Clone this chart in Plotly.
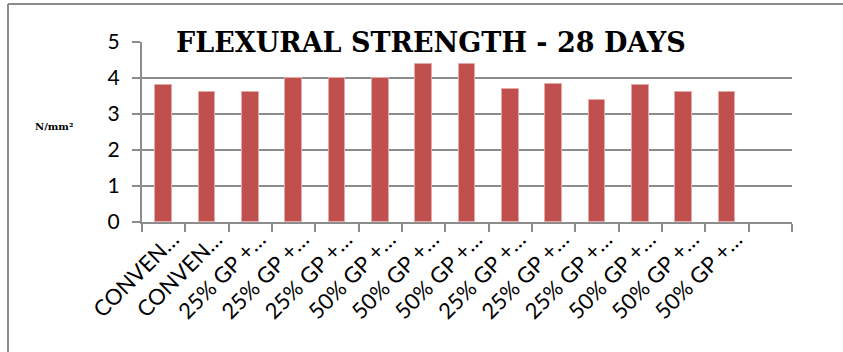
import plotly.graph_objects as go

# Flexural strength after 28 days, one bar per mix
labels = ["CONVEN…", "CONVEN…", "25% GP +…", "25% GP +…", "25% GP +…",
          "50% GP +…", "50% GP +…", "50% GP +…", "25% GP +…", "25% GP +…",
          "25% GP +…", "50% GP +…", "50% GP +…", "50% GP +…"]
strength = [3.8, 3.6, 3.6, 4.0, 4.0, 4.0, 4.4, 4.4, 3.7, 3.83, 3.4, 3.8, 3.6, 3.6]
y_ticks = [0, 1, 2, 3, 4, 5]

positions = list(range(len(labels)))
slots = len(labels) + 1  # one spare slot on the right

W, H = 843, 352
L, R, T, B = 142, 51, 42, 130
SERIF = "DejaVu Serif"

fig = go.Figure()
fig.add_trace(go.Bar(
    x=positions, y=strength, width=0.39,
    marker=dict(color="#C0504D", line=dict(color="#E6A9A7", width=1)),
    hoverinfo="y",
))

grid = "#8C8C8C"
fig.update_layout(
    width=W, height=H,
    margin=dict(l=L, r=R, t=T, b=B, pad=0),
    paper_bgcolor="white", plot_bgcolor="white",
    showlegend=False,
    bargap=0,
    xaxis=dict(
        range=[-0.5, slots - 0.5],
        tickmode="array", tickvals=positions, ticktext=labels,
        tickangle=-45, ticks="", showgrid=False,
        tickfont=dict(family="Lato", size=22, color="black"),
        showline=True, linecolor=grid, linewidth=2,
        zeroline=False,
        minor=dict(tick0=-0.5, dtick=1, ticks="outside", ticklen=8,
                   tickcolor=grid, tickwidth=2, showgrid=False),
        ticklabelstandoff=-6,
        ticklabelshift=9,
    ),
    yaxis=dict(
        range=[0, 5], tickvals=y_ticks,
        ticks="outside", ticklen=8, tickcolor=grid, tickwidth=2,
        showgrid=True, gridcolor=grid, gridwidth=2,
        showline=True, linecolor=grid, linewidth=2,
        zeroline=False,
        tickfont=dict(family="Lato", size=21, color="black"),
        ticklabelstandoff=8,
    ),
    font=dict(family="Lato", color="black"),
)

# chart frame (left and top edges)
fig.add_shape(type="line", xref="paper", yref="paper",
              x0=(8 - L) / (W - L - R), x1=(8 - L) / (W - L - R),
              y0=(H - B - 352) / (H - T - B), y1=(H - B - 4) / (H - T - B),
              line=dict(color=grid, width=2), layer="above")
fig.add_shape(type="line", xref="paper", yref="paper",
              x0=(8 - L) / (W - L - R), x1=(W - L) / (W - L - R),
              y0=(H - B - 4) / (H - T - B), y1=(H - B - 4) / (H - T - B),
              line=dict(color=grid, width=2), layer="above")

# title, drawn over the top gridline
fig.add_annotation(
    text="<b>FLEXURAL STRENGTH - 28 DAYS</b>",
    xref="paper", yref="paper",
    x=(431 - L) / (W - L - R), y=(H - B - 42) / (H - T - B),
    xanchor="center", yanchor="middle", showarrow=False,
    font=dict(family=SERIF, size=27, color="black"),
)

# unit label
fig.add_annotation(
    text="<b>N/mm²</b>",
    xref="paper", yref="paper",
    x=(54 - L) / (W - L - R), y=(H - B - 126) / (H - T - B),
    xanchor="center", yanchor="middle", showarrow=False,
    font=dict(family=SERIF, size=10, color="black"),
)

fig.write_html("out.html")
